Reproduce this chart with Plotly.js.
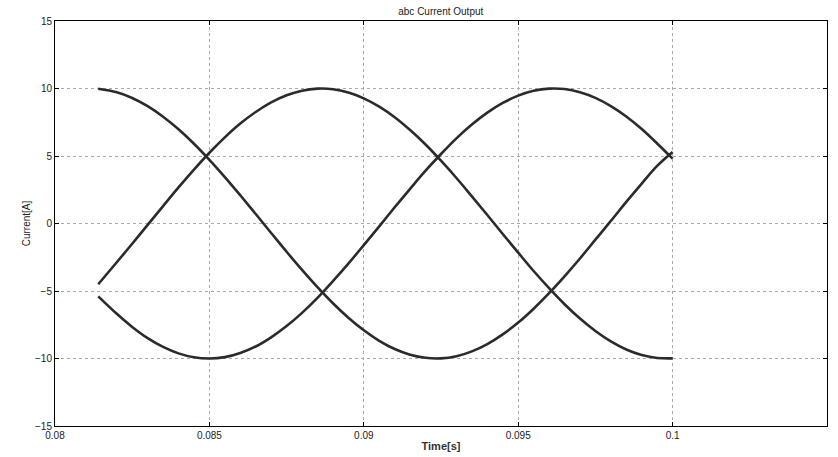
<!DOCTYPE html>
<html>
<head>
<meta charset="utf-8">
<script src="https://cdn.plot.ly/plotly-3.0.1.min.js"></script>
<style>html,body{margin:0;padding:0;background:#fff;}#chart{width:838px;height:457px;}</style>
</head>
<body>
<div id="chart"></div>
<script>
// Time samples [s]
const time = [0.0814,0.082,0.0825,0.083,0.0835,0.084,0.0845,0.085,0.0855,0.086,0.0865,0.087,0.0875,0.088,0.0885,0.089,0.0895,0.090,0.0905,0.091,0.0915,0.092,0.0925,0.093,0.0935,0.094,0.0945,0.095,0.0955,0.096,0.0965,0.097,0.0975,0.098,0.0985,0.099,0.0995,0.100];
// Phase currents [A]
const ia = [9.98,9.72,9.30,8.69,7.91,6.98,5.91,4.72,3.44,2.09,0.70,-0.70,-2.09,-3.44,-4.72,-5.91,-6.98,-7.91,-8.69,-9.30,-9.72,-9.95,-9.99,-9.83,-9.47,-8.93,-8.21,-7.34,-6.31,-5.16,-3.91,-2.59,-1.20,0.19,1.60,2.96,4.27,5.3];
const ib = [-4.5,-2.87,-1.50,-0.10,1.29,2.67,3.99,5.24,6.38,7.40,8.26,8.97,9.50,9.84,9.99,9.95,9.70,9.27,8.65,7.87,6.92,5.85,4.65,3.37,2.01,0.63,-0.78,-2.16,-3.52,-4.79,-5.98,-7.04,-7.96,-8.73,-9.33,-9.74,-9.96,-9.99];
const ic = [-5.4,-6.69,-7.66,-8.49,-9.14,-9.62,-9.91,-10.0,-9.90,-9.59,-9.11,-8.43,-7.60,-6.62,-5.51,-4.27,-2.97,-1.60,-0.21,1.20,2.57,3.91,5.15,6.31,7.33,8.21,8.93,9.47,9.83,9.99,9.96,9.73,9.31,8.70,7.93,7.00,5.93,4.8];
const xTicks = [0.08,0.085,0.09,0.095,0.1,0.105];
const xTickText = ['0.08','0.085','0.09','0.095','0.1','0.105'];
const yTicks = [-15,-10,-5,0,5,10,15];

const lineStyle = {color:'#2b2b2b', width:2.6, shape:'spline'};
const traces = [ia, ib, ic].map((y, i) => ({
  x: time, y: y, type:'scatter', mode:'lines', name:['a','b','c'][i], line: lineStyle, showlegend:false
}));

const axisCommon = {
  showline:true, linecolor:'#000', linewidth:1, mirror:'ticks',
  ticks:'inside', ticklen:4, tickcolor:'#000',
  showgrid:true, gridcolor:'#aaaaaa', griddash:'dot', gridwidth:1,
  zeroline:false, tickfont:{family:'Liberation Sans, Arial, sans-serif', size:10, color:'#222'}
};

const layout = {
  width:838, height:457,
  margin:{l:55, r:11, t:21, b:31},
  paper_bgcolor:'#fff', plot_bgcolor:'#fff',
  title:{text:'abc Current Output', font:{family:'Liberation Sans, Arial, sans-serif', size:10, color:'#222'}, x:0.526, xanchor:'center', y:0.975, yanchor:'middle'},
  xaxis: Object.assign({}, axisCommon, {
    range:[0.08,0.105], tickvals:xTicks, ticktext:xTickText,
    title:{text:'<b>Time[s]</b>', font:{family:'Liberation Sans, Arial, sans-serif', size:11, color:'#333'}, standoff:2}
  }),
  yaxis: Object.assign({}, axisCommon, {
    range:[-15,15], tickvals:yTicks,
    title:{text:'Current[A]', font:{family:'Liberation Sans, Arial, sans-serif', size:10, color:'#222'}, standoff:2}
  })
};

Plotly.newPlot('chart', traces, layout, {staticPlot:true, displayModeBar:false});
</script>
</body>
</html>
